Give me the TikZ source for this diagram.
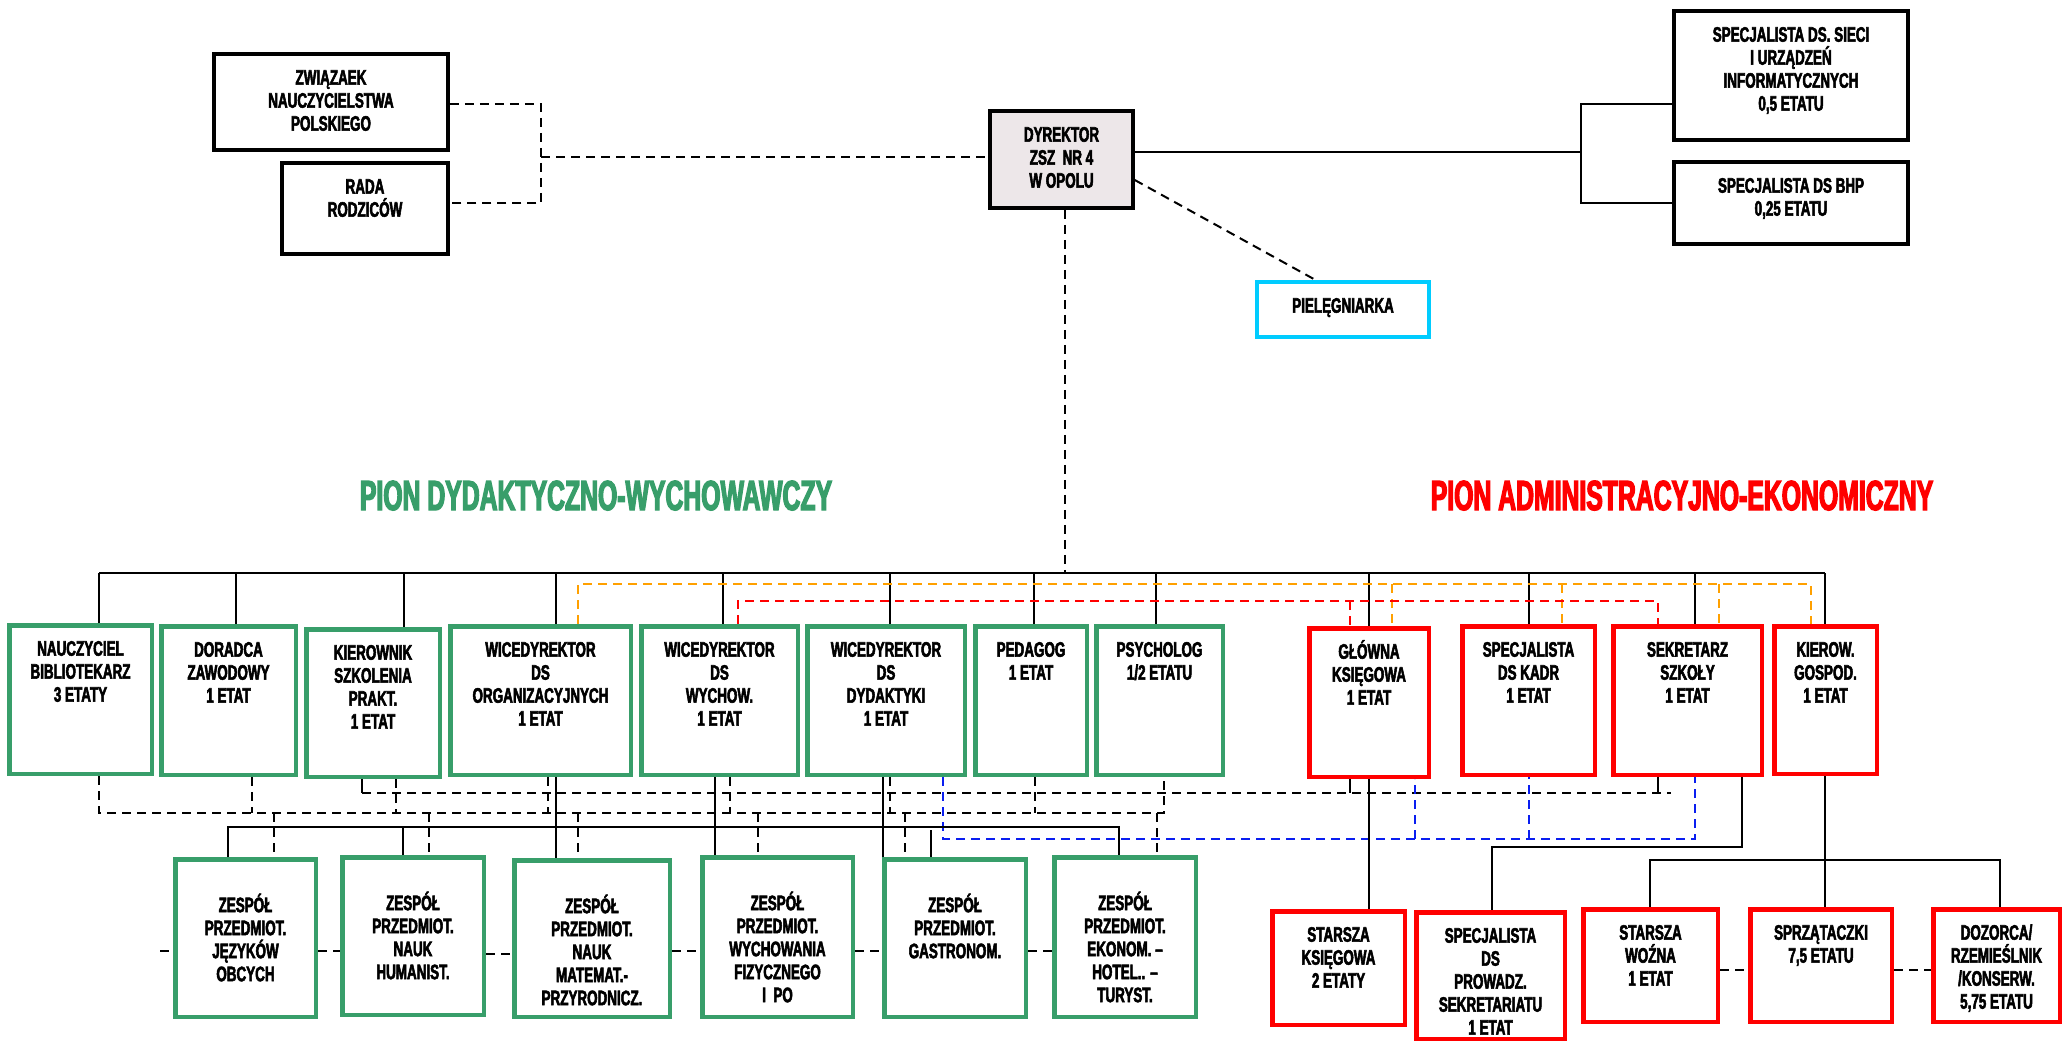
\documentclass[tikz,border=0pt]{standalone}
\usepackage{fontspec}
\setmainfont{Liberation Sans}
\newfontfamily\boxfont[FakeStretch=0.64,FakeBold=2.5]{Liberation Sans Bold}
\newfontfamily\titlefont[FakeStretch=0.59,FakeBold=3]{Liberation Sans Bold}
\pgfdeclarelayer{bg}
\pgfsetlayers{bg,main}
\definecolor{grn}{HTML}{389E6A}
\definecolor{redc}{HTML}{FF0000}
\definecolor{orangec}{HTML}{FFA000}
\definecolor{bluec}{HTML}{0A1EF0}
\definecolor{cyanc}{HTML}{00CCFF}
\definecolor{dirfill}{HTML}{EDE7E9}
\tikzset{
  bb/.style={draw=black, line width=4pt, inner sep=0pt, fill=white},
  db/.style={bb, fill=dirfill},
  gb/.style={draw=grn, line width=4.5pt, inner sep=0pt, fill=white},
  rb/.style={draw=redc, line width=4.5pt, inner sep=0pt, fill=white},
  cb/.style={draw=cyanc, line width=4pt, inner sep=0pt, fill=white},
  txt/.style={font=\boxfont\fontsize{21}{23}\selectfont, align=center, inner sep=0pt, anchor=north},
  ttl/.style={font=\titlefont\fontsize{42}{46}\selectfont, inner sep=0pt, anchor=base},
  conn/.style={draw=black, line width=2pt},
  dsh/.style={draw=black, line width=2pt, dash pattern=on 9pt off 6pt},
  odsh/.style={dsh, draw=orangec},
  rdsh/.style={dsh, draw=redc},
  bdsh/.style={dsh, draw=bluec},
}
\newcommand{\mkbox}[8]{%
  \pgfmathsetmacro{\bw}{#5-#3-4.5}%
  \pgfmathsetmacro{\bh}{#6-#4-4.5}%
  \pgfmathsetmacro{\bx}{(#3+#5)/2}%
  \pgfmathsetmacro{\by}{(#4+#6)/2}%
  \pgfmathsetmacro{\ty}{#4+#7}%
  \node[#2, minimum width=\bw pt, minimum height=\bh pt] (#1) at (\bx,\by) {};
  \node[txt] (#1t) at (\bx,\ty) {\rule{0pt}{21pt}#8};
}
\begin{document}
\begin{tikzpicture}[x=1pt,y=-1pt]
\useasboundingbox (0,0) rectangle (2064,1042);
% top
\mkbox{znp}{bb}{212}{52}{450}{152}{11.5}{ZWIĄZAEK\\NAUCZYCIELSTWA\\POLSKIEGO}
\mkbox{rada}{bb}{280}{161}{450}{256}{11.5}{RADA\\RODZICÓW}
\mkbox{dyr}{db}{988}{109}{1135}{210}{11.5}{DYREKTOR\\ZSZ~~NR 4\\W OPOLU}
\mkbox{spec1}{bb}{1672}{9}{1910}{142}{11.5}{SPECJALISTA DS. SIECI\\I URZĄDZEŃ\\INFORMATYCZNYCH\\0,5 ETATU}
\mkbox{spec2}{bb}{1672}{160}{1910}{246}{11.5}{SPECJALISTA DS BHP\\0,25 ETATU}
\mkbox{piel}{cb}{1255}{280}{1431}{339}{11.5}{PIELĘGNIARKA}
% titles
\node[ttl, text=grn] (t1) at (596,510) {PION DYDAKTYCZNO-WYCHOWAWCZY};
\node[ttl, text=redc] (t2) at (1682,510) {PION ADMINISTRACYJNO-EKONOMICZNY};
% upper row
\mkbox{nau}{gb}{7}{623}{154}{776}{11.5}{NAUCZYCIEL\\BIBLIOTEKARZ\\3 ETATY}
\mkbox{dor}{gb}{159}{624}{298}{777}{11.5}{DORADCA\\ZAWODOWY\\1 ETAT}
\mkbox{kie}{gb}{304}{627}{442}{779}{11.5}{KIEROWNIK\\SZKOLENIA\\PRAKT.\\1 ETAT}
\mkbox{wor}{gb}{448}{624}{633}{777}{11.5}{WICEDYREKTOR\\DS\\ORGANIZACYJNYCH\\1 ETAT}
\mkbox{wwy}{gb}{639}{624}{800}{777}{11.5}{WICEDYREKTOR\\DS\\WYCHOW.\\1 ETAT}
\mkbox{wdy}{gb}{805}{624}{967}{777}{11.5}{WICEDYREKTOR\\DS\\DYDAKTYKI\\1 ETAT}
\mkbox{ped}{gb}{973}{624}{1089}{777}{11.5}{PEDAGOG\\1 ETAT}
\mkbox{psy}{gb}{1094}{624}{1225}{777}{11.5}{PSYCHOLOG\\1/2 ETATU}
\mkbox{glo}{rb}{1307}{626}{1431}{779}{11.5}{GŁÓWNA\\KSIĘGOWA\\1 ETAT}
\mkbox{kad}{rb}{1460}{624}{1597}{777}{11.5}{SPECJALISTA\\DS KADR\\1 ETAT}
\mkbox{sek}{rb}{1611}{624}{1764}{777}{11.5}{SEKRETARZ\\SZKOŁY\\1 ETAT}
\mkbox{kgo}{rb}{1772}{624}{1879}{776}{11.5}{KIEROW.\\GOSPOD.\\1 ETAT}
% lower row
\mkbox{jez}{gb}{173}{857}{318}{1019}{34}{ZESPÓŁ\\PRZEDMIOT.\\JĘZYKÓW\\OBCYCH}
\mkbox{hum}{gb}{340}{855}{486}{1017}{34}{ZESPÓŁ\\PRZEDMIOT.\\NAUK\\HUMANIST.}
\mkbox{mat}{gb}{512}{858}{672}{1019}{34}{ZESPÓŁ\\PRZEDMIOT.\\NAUK\\MATEMAT.-\\PRZYRODNICZ.}
\mkbox{zwf}{gb}{700}{855}{855}{1019}{34}{ZESPÓŁ\\PRZEDMIOT.\\WYCHOWANIA\\FIZYCZNEGO\\I~~PO}
\mkbox{gas}{gb}{882}{857}{1028}{1019}{34}{ZESPÓŁ\\PRZEDMIOT.\\GASTRONOM.}
\mkbox{eko}{gb}{1052}{855}{1198}{1019}{34}{ZESPÓŁ\\PRZEDMIOT.\\EKONOM. –\\HOTEL.. –\\TURYST.}
\mkbox{sks}{rb}{1270}{909}{1407}{1027}{11.5}{STARSZA\\KSIĘGOWA\\2 ETATY}
\mkbox{spw}{rb}{1414}{910}{1567}{1041}{11.5}{SPECJALISTA\\DS\\PROWADZ.\\SEKRETARIATU\\1 ETAT}
\mkbox{woz}{rb}{1581}{907}{1720}{1024}{11.5}{STARSZA\\WOŹNA\\1 ETAT}
\mkbox{spr}{rb}{1748}{907}{1894}{1024}{11.5}{SPRZĄTACZKI\\7,5 ETATU}
\mkbox{doz}{rb}{1931}{907}{2062}{1024}{11.5}{DOZORCA/\\RZEMIEŚLNIK\\/KONSERW.\\5,75 ETATU}

\begin{pgfonlayer}{bg}
% top-left dashed
\coordinate (jL) at (541,157);
\draw[dsh] (znp.east |- 0,104) -| (jL) |- (rada.east |- 0,203);
\draw[dsh] (jL) -- (dyr.west |- jL);
% top-right solid
\coordinate (jR) at (1581,152);
\draw[conn] (dyr.east |- jR) -- (jR);
\draw[conn] (spec1.west |- 0,104) -| (jR) |- (spec2.west |- 0,203);
% nurse
\draw[dsh] (dyr.east |- 0,180) -- (piel.north -| 1316,0);
% main bus
\coordinate (busL) at (99,573);
\coordinate (busR) at (1825,573);
\draw[dsh] (dyr.south -| 1065,0) -- (busL -| 1065,0);
\draw[conn] (busL) -- (busR);
\foreach \n/\x in {nau/99, dor/236, kie/404, wor/556, wwy/723, wdy/890, ped/1034, psy/1156, glo/1369, kad/1529, sek/1695, kgo/1825}
  \draw[conn] (busL -| \x,0) -- (\n.north -| \x,0);
% orange
\coordinate (oL) at (578,584);
\coordinate (oR) at (1811,584);
\draw[odsh] (wor.north -| oL) -- (oL) -- (oR) -- (kgo.north -| oR);
\foreach \n/\x in {glo/1392, kad/1562, sek/1719}
  \draw[odsh] (oL -| \x,0) -- (\n.north -| \x,0);
% red
\coordinate (rL) at (738,601);
\coordinate (rR) at (1658,601);
\draw[rdsh] (wwy.north -| rL) -- (rL) -- (rR) -- (sek.north -| rR);
\draw[rdsh] (rL -| 1350,0) -- (glo.north -| 1350,0);
% black dashed 793
\coordinate (d1L) at (362,793);
\coordinate (d1R) at (1671,793);
\draw[conn] (kie.south -| d1L) -- (d1L);
\draw[dsh] (d1L) -- (d1R);
\draw[conn] (glo.south -| 1350,0) -- (d1L -| 1350,0);
\draw[conn] (sek.south -| 1658,0) -- (d1L -| 1658,0);
% black dashed 813
\coordinate (d2L) at (99,813);
\coordinate (d2R) at (1164,813);
\draw[dsh] (nau.south -| d2L) -- (d2L) -- (d2R) -- (psy.south -| d2R);
\foreach \n/\x in {dor/252, kie/396, wor/548, wwy/730, wdy/890, ped/1035}
  \draw[dsh] (\n.south -| \x,0) -- (d2L -| \x,0);
\foreach \n/\x in {jez/274, hum/429, mat/578, zwf/758, gas/905, eko/1157}
  \draw[dsh] (d2L -| \x,0) -- (\n.north -| \x,0);
% blue
\coordinate (bL) at (943,839);
\coordinate (bR) at (1695,839);
\draw[bdsh] (wdy.south -| bL) -- (bL) -- (bR) -- (sek.south -| bR);
\foreach \n/\x in {glo/1415, kad/1529}
  \draw[bdsh] (bL -| \x,0) -- (\n.south -| \x,0);
% solid 827
\coordinate (s2L) at (228,827);
\coordinate (s2R) at (1119,827);
\draw[conn] (jez.north -| s2L) -- (s2L) -- (s2R) -- (eko.north -| s2R);
\draw[conn] (s2L -| 403,0) -- (hum.north -| 403,0);
\draw[conn] (gas.north -| 931,0) -- ++(0,-27);
\draw[conn] (wor.south -| 556,0) -- (mat.north -| 556,0);
\draw[conn] (wwy.south -| 715,0) -- (zwf.north -| 715,0);
\draw[conn] (wdy.south -| 883,0) -- (gas.north -| 883,0);
% lower right solid
\draw[conn] (glo.south -| 1369,0) -- (sks.north -| 1369,0);
\coordinate (sj) at (1742,847);
\draw[conn] (sek.south -| sj) -- (sj) -| (spw.north -| 1492,0);
\draw[conn] (kgo.south -| 1825,0) -- (spr.north -| 1825,0);
\coordinate (hL) at (1650,860);
\coordinate (hR) at (2000,860);
\draw[conn] (woz.north -| hL) -- (hL) -- (hR) -- (doz.north -| hR);
% bottom dashed links
\draw[dsh] (160,951) -- (jez.west |- 0,951);
\draw[dsh] (jez.east |- 0,951) -- (hum.west |- 0,951);
\draw[dsh] (hum.east |- 0,954) -- (mat.west |- 0,954);
\draw[dsh] (mat.east |- 0,951) -- (zwf.west |- 0,951);
\draw[dsh] (zwf.east |- 0,951) -- (gas.west |- 0,951);
\draw[dsh] (gas.east |- 0,951) -- (eko.west |- 0,951);
\draw[dsh] (woz.east |- 0,970) -- (spr.west |- 0,970);
\draw[dsh] (spr.east |- 0,970) -- (doz.west |- 0,970);
\end{pgfonlayer}
\end{tikzpicture}
\end{document}
